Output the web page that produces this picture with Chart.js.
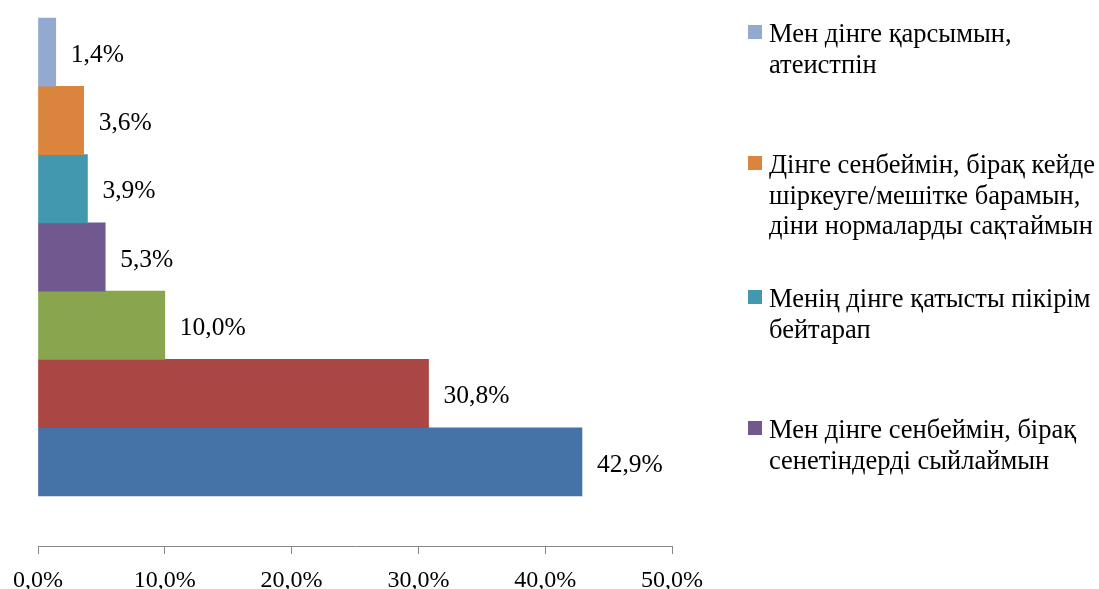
<!DOCTYPE html>
<html>
<head>
<meta charset="utf-8">
<script src="https://cdn.jsdelivr.net/npm/chart.js@4/dist/chart.umd.min.js"></script>
<style>
html,body{margin:0;padding:0;background:#fff;}
#wrap{width:1099px;height:589px;}
</style>
</head>
<body>
<div id="wrap"><canvas id="c" width="1099" height="589"></canvas></div>
<script>
// ---- data ----
const seriesLabels = [
  ['Мен дінге қарсымын,', 'атеистпін'],
  ['Дінге сенбеймін, бірақ кейде', 'шіркеуге/мешітке барамын,', 'діни нормаларды сақтаймын'],
  ['Менің дінге қатысты пікірім', 'бейтарап'],
  ['Мен дінге сенбеймін, бірақ', 'сенетіндерді сыйлаймын'],
  ['Серия 5'],
  ['Серия 6'],
  ['Серия 7']
];
const seriesValues = [1.4, 3.6, 3.9, 5.3, 10.0, 30.8, 42.9];
const seriesColors = ['#93A9CF', '#DB843D', '#4198AF', '#71588F', '#89A54E', '#AA4643', '#4572A7'];
const xTickLabels = ['0,0%', '10,0%', '20,0%', '30,0%', '40,0%', '50,0%'];
const legendShown = 4;

const FONT = '"Liberation Serif", "Times New Roman", serif';

const datasets = seriesValues.map((v, i) => ({
  label: seriesLabels[i].join(' '),
  data: [{x: v, y: i}],
  backgroundColor: seriesColors[i],
  borderWidth: 0,
  grouped: false,
  categoryPercentage: 1,
  barPercentage: 1
}));

const fmt = v => v.toFixed(1).replace('.', ',') + '%';

const valueLabels = {
  id: 'valueLabels',
  afterDatasetsDraw(chart) {
    const ctx = chart.ctx;
    ctx.save();
    ctx.font = '25.5px ' + FONT;
    ctx.fillStyle = '#000';
    ctx.textAlign = 'left';
    ctx.textBaseline = 'middle';
    chart.data.datasets.forEach((ds, i) => {
      const el = chart.getDatasetMeta(i).data[0];
      ctx.fillText(fmt(seriesValues[i]), el.x + 15, el.y + 3);
    });
    ctx.restore();
  }
};

const sideLegend = {
  id: 'sideLegend',
  afterDraw(chart) {
    const ctx = chart.ctx;
    const baselines = [42, 173, 307, 438];
    const lineH = 30.5;
    ctx.save();
    ctx.font = '26.5px ' + FONT;
    ctx.textAlign = 'left';
    ctx.textBaseline = 'alphabetic';
    for (let i = 0; i < legendShown; i++) {
      const b = baselines[i];
      ctx.fillStyle = seriesColors[i];
      ctx.fillRect(748, b - 17, 14, 14);
      ctx.fillStyle = '#000';
      seriesLabels[i].forEach((line, k) => ctx.fillText(line, 769, b + k * lineH));
    }
    ctx.restore();
  }
};

new Chart(document.getElementById('c'), {
  type: 'bar',
  data: { datasets },
  options: {
    indexAxis: 'y',
    responsive: false,
    animation: false,
    layout: { padding: { left: 38, right: 427, top: 0, bottom: 0 } },
    plugins: { legend: { display: false }, tooltip: { enabled: false } },
    scales: {
      y: {
        type: 'linear',
        reverse: true,
        offset: false,
        grid: { offset: false },
        bounds: 'data',
        min: -0.7635,
        max: 7.232,
        display: false,
        afterBuildTicks: (s) => { s.ticks = seriesValues.map((_, i) => ({ value: i })); }
      },
      x: {
        type: 'linear',
        min: 0,
        max: 50,
        afterFit: (s) => { s.height = 43; s.paddingLeft = 0; s.paddingRight = 0; },
        grid: { drawOnChartArea: false, drawTicks: true, tickLength: 8, color: '#868686' },
        border: { display: true, color: '#868686', width: 1 },
        ticks: {
          stepSize: 10,
          padding: 15,
          color: '#000',
          font: { family: FONT, size: 24, lineHeight: 1 },
          maxRotation: 0,
          callback: (v, idx) => xTickLabels[idx]
        }
      }
    }
  },
  plugins: [valueLabels, sideLegend]
});
</script>
</body>
</html>
